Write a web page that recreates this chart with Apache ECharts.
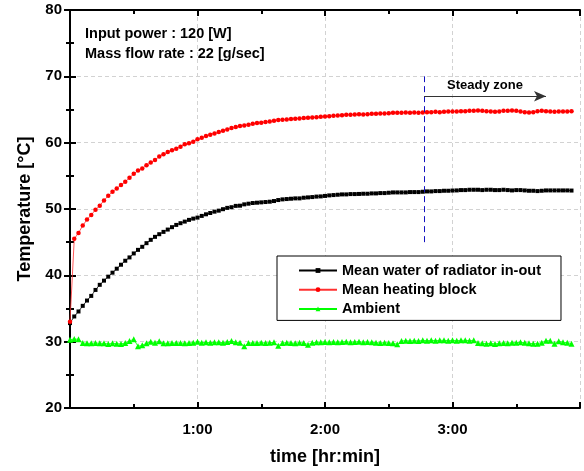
<!DOCTYPE html>
<html>
<head>
<meta charset="utf-8">
<script src="https://cdn.jsdelivr.net/npm/echarts@6/dist/echarts.min.js"></script>
<style>
html,body{margin:0;padding:0;background:#fff;}
#chart{width:584px;height:471px;}
</style>
</head>
<body>
<div id="chart"></div>
<script>
// time in minutes
const times = [0,2,4,6,8,10,12,14,16,18,20,22,24,26,28,30,32,34,36,38,40,42,44,46,48,50,52,54,56,58,
  60,62,64,66,68,70,72,74,76,78,80,82,84,86,88,90,92,94,96,98,100,102,104,106,108,110,112,114,116,118,
  120,122,124,126,128,130,132,134,136,138,140,142,144,146,148,150,152,154,156,158,160,162,164,166,168,170,172,174,176,178,
  180,182,184,186,188,190,192,194,196,198,200,202,204,206,208,210,212,214,216,218,220,222,224,226,228,230,232,234,236];

const waterMean = [32.8,33.8,34.55,35.4,36.2,36.9,37.8,38.57,39.2,39.8,40.4,41.0,41.6,42.2,42.7,43.3,43.84,44.3,44.85,45.35,
  45.8,46.2,46.55,46.9,47.26,47.6,47.86,48.1,48.36,48.55,48.7,48.96,49.2,49.4,49.6,49.75,49.97,50.17,50.27,50.47,
  50.5,50.7,50.8,50.9,50.95,51.0,51.05,51.1,51.2,51.35,51.45,51.5,51.55,51.6,51.6,51.7,51.75,51.8,51.87,51.9,
  51.97,52.05,52.1,52.15,52.2,52.2,52.25,52.25,52.27,52.3,52.3,52.35,52.35,52.4,52.4,52.45,52.5,52.5,52.5,52.5,
  52.55,52.55,52.55,52.6,52.65,52.65,52.7,52.7,52.75,52.75,52.78,52.8,52.85,52.85,52.9,52.9,52.9,52.85,52.9,52.9,
  52.85,52.85,52.9,52.85,52.8,52.85,52.85,52.8,52.75,52.75,52.7,52.75,52.8,52.8,52.8,52.8,52.8,52.8,52.78];

const heatingBlock = [33.0,45.5,46.4,47.5,48.4,49.1,49.9,50.5,51.3,52.0,52.6,53.1,53.6,54.1,54.7,55.3,55.8,56.1,56.6,57.0,
  57.4,57.9,58.25,58.6,58.85,59.1,59.4,59.76,59.9,60.15,60.5,60.75,61.0,61.2,61.4,61.6,61.8,62.0,62.2,62.35,
  62.5,62.6,62.7,62.85,62.95,63.0,63.1,63.2,63.3,63.4,63.45,63.5,63.55,63.6,63.65,63.7,63.75,63.8,63.85,63.9,
  63.95,64.0,64.05,64.1,64.15,64.2,64.2,64.25,64.3,64.25,64.3,64.35,64.35,64.4,64.4,64.45,64.5,64.5,64.5,64.55,
  64.5,64.55,64.5,64.55,64.6,64.6,64.65,64.6,64.65,64.7,64.7,64.7,64.75,64.75,64.8,64.8,64.85,64.8,64.75,64.7,
  64.65,64.7,64.8,64.8,64.85,64.8,64.7,64.6,64.55,64.6,64.75,64.8,64.75,64.7,64.65,64.7,64.7,64.7,64.75];

const ambient = [30.3,30.4,30.35,29.8,29.75,29.75,29.8,29.75,29.75,29.65,29.75,29.7,29.65,29.8,30.1,30.35,29.3,29.45,29.75,30.0,
  29.85,30.05,29.75,29.75,29.8,29.8,29.8,29.75,29.8,29.85,30.0,29.85,29.9,29.85,29.9,29.9,29.85,29.95,30.1,29.9,
  29.85,29.3,29.8,29.8,29.8,29.85,29.8,29.85,29.9,29.4,29.8,29.85,29.8,29.75,29.85,29.8,29.55,29.85,29.9,29.9,
  29.95,29.9,29.95,29.9,29.95,30.0,29.9,29.95,30.0,29.9,29.95,29.9,29.85,29.8,29.85,29.8,29.75,29.6,30.1,30.15,
  30.1,30.15,30.1,30.2,30.15,30.2,30.15,30.2,30.2,30.15,30.2,30.15,30.2,30.2,30.15,30.2,29.8,29.75,29.7,29.75,
  29.65,29.75,29.8,29.75,29.85,29.85,29.9,29.85,29.75,29.7,29.7,29.85,30.15,30.15,29.7,30.05,29.9,29.85,29.7];

const seriesNames = ['Mean water of radiator in-out', 'Mean heating block', 'Ambient'];
const xTickLabels = {60: '1:00', 120: '2:00', 180: '3:00'};
const annotationLines = ['Input power : 120 [W]', 'Mass flow rate : 22 [g/sec]'];
// steady zone annotation (data coords)
const steadyStart = 166.6;
const steadyLineRange = [45, 70];
const steadyArrow = {y: 67, x2: 224, text: 'Steady zone'};

const FONT = '"Liberation Sans", Arial, sans-serif';

const chart = echarts.init(document.getElementById('chart'), null, {renderer: 'canvas'});

function pairs(vals) { return vals.map((v, i) => [times[i], v]); }

const axisLineStyle = {show: true, lineStyle: {color: '#000', width: 2}};

const option = {
  animation: false,
  backgroundColor: '#fff',
  textStyle: {fontFamily: FONT},
  grid: {left: 70, right: 4, top: 10, bottom: 63, containLabel: false},
  xAxis: [{
    type: 'value', min: 0, max: 240, interval: 60, position: 'bottom',
    axisLine: axisLineStyle,
    axisTick: {show: true, inside: true, length: 6, lineStyle: {width: 2, color: '#000'}},
    minorTick: {show: true, splitNumber: 2, length: 4, lineStyle: {width: 2, color: '#000'}},
    axisLabel: {margin: 14, color: '#000', fontWeight: 'bold', fontSize: 15, fontFamily: FONT,
      formatter: v => xTickLabels[v] || ''},
    splitLine: {show: true, lineStyle: {color: '#d2d2d2', type: [4, 3], width: 1}},
    name: 'time [hr:min]', nameLocation: 'middle', nameGap: 40,
    nameTextStyle: {color: '#000', fontWeight: 'bold', fontSize: 18, fontFamily: FONT}
  }, {
    type: 'value', min: 0, max: 240, interval: 60, position: 'top',
    axisLine: axisLineStyle,
    axisTick: {show: true, inside: true, length: 6, lineStyle: {width: 2, color: '#000'}},
    minorTick: {show: true, splitNumber: 2, length: 4, lineStyle: {width: 2, color: '#000'}},
    axisLabel: {show: false}, splitLine: {show: false}
  }],
  yAxis: [{
    type: 'value', min: 20, max: 80, interval: 10, position: 'left',
    axisLine: axisLineStyle,
    axisTick: {show: true, inside: true, length: 6, lineStyle: {width: 2, color: '#000'}},
    minorTick: {show: true, splitNumber: 2, length: 4, lineStyle: {width: 2, color: '#000'}},
    axisLabel: {margin: 8, color: '#000', fontWeight: 'bold', fontSize: 15, fontFamily: FONT},
    splitLine: {show: true, lineStyle: {color: '#d2d2d2', type: [4, 3], width: 1}},
    name: 'Temperature [\u00B0C]', nameLocation: 'middle', nameGap: 36,
    nameTextStyle: {color: '#000', fontWeight: 'bold', fontSize: 18, fontFamily: FONT}
  }, {
    type: 'value', min: 20, max: 80, interval: 10, position: 'right',
    axisLine: axisLineStyle,
    axisTick: {show: true, inside: true, length: 6, lineStyle: {width: 2, color: '#000'}},
    minorTick: {show: true, splitNumber: 2, length: 4, lineStyle: {width: 2, color: '#000'}},
    axisLabel: {show: false}, splitLine: {show: false}
  }],
  legend: {
    show: true, orient: 'vertical', left: 277, top: 256,
    width: 286,
    padding: [7, 20, 4, 21], itemGap: 4.2, itemWidth: 38, itemHeight: 6,
    backgroundColor: '#fff', borderColor: '#000', borderWidth: 1, borderRadius: 0,
    textStyle: {color: '#000', fontWeight: 'bold', fontSize: 14.5, fontFamily: FONT},
    data: seriesNames
  },
  graphic: [
    {type: 'text', left: 85, top: 26, z: 100,
     style: {text: annotationLines[0], fill: '#000', font: 'bold 14.5px ' + FONT}},
    {type: 'text', left: 85, top: 46, z: 100,
     style: {text: annotationLines[1], fill: '#000', font: 'bold 14.5px ' + FONT}}
  ],
  series: [{
    name: seriesNames[0], type: 'line', data: pairs(waterMean),
    symbol: 'rect', symbolSize: 4, showSymbol: true,
    itemStyle: {color: '#000'}, lineStyle: {color: '#000', width: 0.8},
    markLine: {
      silent: true, symbol: 'none', animation: false,
      data: [
        [{coord: [steadyStart, steadyLineRange[0]], lineStyle: {color: '#1010c0', type: [6, 4], width: 1}},
         {coord: [steadyStart, steadyLineRange[1]]}],
        [{coord: [steadyStart, steadyArrow.y], symbol: 'none',
          lineStyle: {color: '#333', type: 'solid', width: 1},
          label: {show: true, formatter: steadyArrow.text, position: 'insideMiddleTop', distance: 4,
            color: '#000', fontWeight: 'bold', fontSize: 13, fontFamily: FONT}},
         {coord: [steadyArrow.x2, steadyArrow.y], symbol: 'arrow', symbolSize: [8, 12]}]
      ],
      label: {show: false}
    }
  }, {
    name: seriesNames[1], type: 'line', data: pairs(heatingBlock),
    symbol: 'circle', symbolSize: 4.5, showSymbol: true,
    itemStyle: {color: '#ff0000'}, lineStyle: {color: '#ff3030', width: 0.8}
  }, {
    name: seriesNames[2], type: 'line', data: pairs(ambient),
    symbol: 'triangle', symbolSize: 6, showSymbol: true,
    itemStyle: {color: '#00ff00'}, lineStyle: {color: '#00ff00', width: 0.8}
  }]
};

chart.setOption(option);
</script>
</body>
</html>
